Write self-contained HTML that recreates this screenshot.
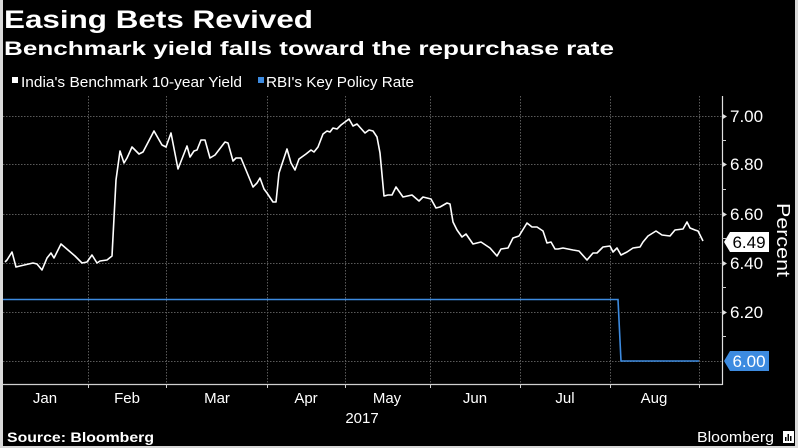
<!DOCTYPE html>
<html><head><meta charset="utf-8"><style>
html,body{margin:0;padding:0;background:#000;}
svg{display:block;}
</style></head><body>
<svg width="798" height="448" viewBox="0 0 798 448" xmlns="http://www.w3.org/2000/svg" font-family="'Liberation Sans', sans-serif">
<rect x="0" y="0" width="798" height="448" fill="#000"/>
<!-- light borders -->
<rect x="0" y="0" width="3" height="448" fill="#d9d9d9"/>
<rect x="795" y="0" width="3" height="448" fill="#d9d9d9"/>
<rect x="0" y="446" width="798" height="2" fill="#d9d9d9"/>

<!-- titles -->
<text x="4" y="28" fill="#fff" font-size="25" font-weight="bold" textLength="309" lengthAdjust="spacingAndGlyphs">Easing Bets Revived</text>
<text x="4" y="55" fill="#fff" font-size="19.5" font-weight="bold" textLength="610" lengthAdjust="spacingAndGlyphs">Benchmark yield falls toward the repurchase rate</text>

<!-- legend -->
<rect x="12" y="77" width="6" height="6" fill="#fff"/>
<text x="21" y="87" fill="#fff" font-size="14.5" textLength="221" lengthAdjust="spacingAndGlyphs">India's Benchmark 10-year Yield</text>
<rect x="258" y="77" width="6" height="6" fill="#3d8be0"/>
<text x="266" y="87" fill="#fff" font-size="14.5" textLength="148" lengthAdjust="spacingAndGlyphs">RBI's Key Policy Rate</text>

<!-- grid -->
<g stroke="#5a5a5a" stroke-width="1" stroke-dasharray="1.5 1.5">
<line x1="3" y1="116.5" x2="722" y2="116.5"/>
<line x1="3" y1="164.5" x2="722" y2="164.5"/>
<line x1="3" y1="214.5" x2="722" y2="214.5"/>
<line x1="3" y1="263.5" x2="722" y2="263.5"/>
<line x1="3" y1="312.5" x2="722" y2="312.5"/>
<line x1="3" y1="361.5" x2="722" y2="361.5"/>
<line x1="88.5" y1="96" x2="88.5" y2="384"/>
<line x1="166.5" y1="96" x2="166.5" y2="384"/>
<line x1="267.5" y1="96" x2="267.5" y2="384"/>
<line x1="345.5" y1="96" x2="345.5" y2="384"/>
<line x1="430.5" y1="96" x2="430.5" y2="384"/>
<line x1="520.5" y1="96" x2="520.5" y2="384"/>
<line x1="610.5" y1="96" x2="610.5" y2="384"/>
<line x1="699.5" y1="96" x2="699.5" y2="384"/>
</g>

<!-- axes -->
<line x1="3" y1="384.5" x2="722.5" y2="384.5" stroke="#cfcfcf" stroke-width="1.2"/>
<line x1="722.5" y1="96" x2="722.5" y2="385" stroke="#e0e0e0" stroke-width="1.2"/>
<g stroke="#cfcfcf" stroke-width="1">
<line x1="88.5" y1="384" x2="88.5" y2="388"/>
<line x1="166.5" y1="384" x2="166.5" y2="388"/>
<line x1="267.5" y1="384" x2="267.5" y2="388"/>
<line x1="345.5" y1="384" x2="345.5" y2="388"/>
<line x1="430.5" y1="384" x2="430.5" y2="388"/>
<line x1="520.5" y1="384" x2="520.5" y2="388"/>
<line x1="610.5" y1="384" x2="610.5" y2="388"/>
<line x1="699.5" y1="384" x2="699.5" y2="388"/>
<!-- minor y ticks -->
<line x1="722" y1="140.5" x2="726" y2="140.5"/>
<line x1="722" y1="189.5" x2="726" y2="189.5"/>
<line x1="722" y1="238.5" x2="726" y2="238.5"/>
<line x1="722" y1="287.5" x2="726" y2="287.5"/>
<line x1="722" y1="336.5" x2="726" y2="336.5"/>
</g>
<g fill="#e0e0e0">
<polygon points="722,113.5 727,116.5 722,119.5"/>
<polygon points="722,161.5 727,164.5 722,167.5"/>
<polygon points="722,211.5 727,214.5 722,217.5"/>
<polygon points="722,260.5 727,263.5 722,266.5"/>
<polygon points="722,309.5 727,312.5 722,315.5"/>
</g>

<!-- y labels -->
<g fill="#fff" font-size="17">
<text x="730" y="122">7.00</text>
<text x="730" y="170">6.80</text>
<text x="730" y="220">6.60</text>
<text x="730" y="269">6.40</text>
<text x="730" y="318">6.20</text>
</g>
<text transform="translate(777,240) rotate(90)" fill="#fff" font-size="18" text-anchor="middle" textLength="74" lengthAdjust="spacingAndGlyphs">Percent</text>

<!-- x labels -->
<g fill="#fff" font-size="15" text-anchor="middle">
<text x="45" y="403">Jan</text>
<text x="127" y="403">Feb</text>
<text x="217" y="403">Mar</text>
<text x="306" y="403">Apr</text>
<text x="387" y="403">May</text>
<text x="475" y="403">Jun</text>
<text x="565" y="403">Jul</text>
<text x="654" y="403">Aug</text>
<text x="362" y="423">2017</text>
</g>

<!-- series: policy rate -->
<polyline fill="none" stroke="#3d8be0" stroke-width="1.6" points="3,299.5 618,299.5 621,361 699,361"/>

<!-- series: yield -->
<polyline fill="none" stroke="#fff" stroke-width="1.6" stroke-linejoin="round" points="5,262 7,260 12,252 16,267 20,266 33,263 37,264 42,270 47,258 51,253 54,258 61,244 68,250 75,256 82,263 87,262 92,255 97,263 100,261 107,260 112,256 116,180 120,151 124,163 127,158 132,147 139,154 143,152 154,131 162,145 166,147 171,133 178,169 187,146 190,157 194,151 197,150 201,140 205,140 210,158 215,155 225,142 228,143 233,161 236,158 241,158 253,187 257,183 260,178 264,189 267,193 273,202 276,202 279,173 287,149 291,163 295,170 299,159 306,154 311,150 314,152 318,147 323,134 327,131 330,132 333,128 337,129 341,125 349,119 353,126 357,124 365,133 369,130 373,131 377,137 380,153 384,196 388,195 392,195 396,187 403,197 412,195 419,201 423,197 431,199 436,208 440,207 447,203 450,204 453,222 457,230 462,237 466,234 473,244 481,242 490,248 497,256 501,249 508,248 513,238 519,236 527,223 532,227 537,227 543,231 547,243 551,242 555,249 558,249 563,248 568,249 573,250 579,251 587,260 593,253 597,253 603,247 610,246 613,252 617,248 621,255 627,252 633,248 640,247 643,242 648,236 656,231 662,235 670,236 675,230 683,229 687,222 690,228 695,230 698,231 701,237 703,241"/>

<!-- value tags -->
<polygon points="724,242 730,232 769,232 769,252 730,252" fill="#fff"/>
<text x="749" y="248" fill="#000" font-size="17" text-anchor="middle">6.49</text>
<polygon points="724,361 730,351 769,351 769,371 730,371" fill="#3d8be0"/>
<text x="749" y="367" fill="#fff" font-size="17" text-anchor="middle">6.00</text>

<!-- footer -->
<text x="7" y="442" fill="#fff" font-size="13.5" font-weight="bold" textLength="147" lengthAdjust="spacingAndGlyphs">Source: Bloomberg</text>
<text x="697" y="442" fill="#fff" font-size="15" textLength="77" lengthAdjust="spacingAndGlyphs">Bloomberg</text>
<rect x="783" y="431" width="11" height="12" fill="#fff"/>
<g fill="#000">
<rect x="785" y="437" width="1.5" height="4"/>
<rect x="787.5" y="434" width="1.5" height="7"/>
<rect x="790" y="436" width="1.5" height="5"/>
</g>
</svg>
</body></html>
